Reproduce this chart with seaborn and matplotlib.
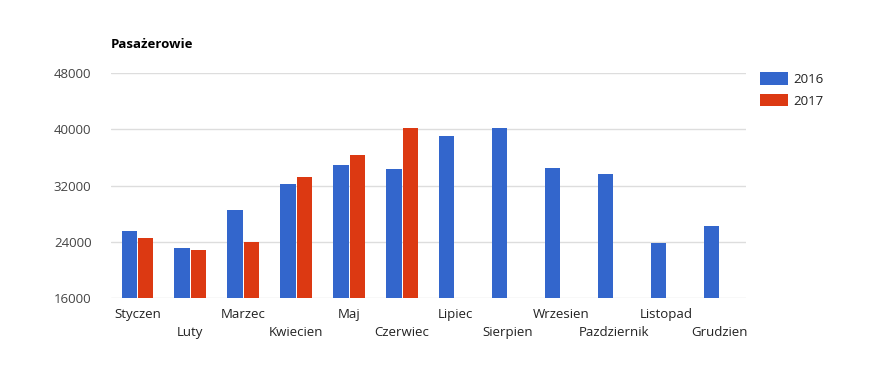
import numpy as np
import pandas as pd
import matplotlib
matplotlib.use("Agg")
import matplotlib.pyplot as plt
import matplotlib.transforms as mtransforms
import seaborn as sns
from matplotlib.patches import Patch

months = ["Styczen", "Luty", "Marzec", "Kwiecien", "Maj", "Czerwiec",
          "Lipiec", "Sierpien", "Wrzesien", "Pazdziernik", "Listopad", "Grudzien"]
vals_2016 = [25500, 23100, 28600, 32300, 35000, 34300,
             39100, 40250, 34500, 33600, 23900, 26300]
vals_2017 = [24500, 22800, 24000, 33250, 36400, 40250,
             np.nan, np.nan, np.nan, np.nan, np.nan, np.nan]
series = ["2016", "2017"]
colors = ["#3366CC", "#DC3912"]
yticks = [16000, 24000, 32000, 40000, 48000]
title = "Pasażerowie"

df = pd.DataFrame({
    "month": months * 2,
    "year": [series[0]] * 12 + [series[1]] * 12,
    "value": vals_2016 + vals_2017,
})

sns.set_style("white")
plt.rcParams["font.family"] = ["Open Sans", "DejaVu Sans"]

fig = plt.figure(figsize=(8.81, 3.67), dpi=100)
ax = fig.add_axes([111 / 881, 1 - 298 / 367, (746 - 111) / 881, (298 - 73.3) / 367])

sns.barplot(data=df, x="month", y="value", hue="year", order=months,
            hue_order=series, palette=colors, width=0.62, gap=0.06,
            linewidth=0, saturation=1, legend=False, ax=ax, errorbar=None)

ax.set_ylim(yticks[0], yticks[-1])
ax.set_yticks(yticks)
ax.set_yticklabels([str(t) for t in yticks])
ax.set_xlim(-0.5, len(months) - 0.5)
ax.set_xlabel("")
ax.set_ylabel("")
ax.grid(axis="y", color="#dddddd", linewidth=1)
ax.set_axisbelow(True)
for s in ax.spines.values():
    s.set_visible(False)

ax.set_xticks(range(len(months)))
ax.set_xticklabels(months)
ax.tick_params(axis="x", length=0, pad=7.5, labelsize=9.5, labelcolor="#222222")
ax.tick_params(axis="y", length=0, pad=14, labelsize=9.5, labelcolor="#444444")

for i, lab in enumerate(ax.get_xticklabels()):
    if i % 2 == 1:
        lab.set_transform(lab.get_transform() +
                          mtransforms.ScaledTranslation(0, -18 / 100, fig.dpi_scale_trans))

fig.text(111 / 881, 1 - 44 / 367, title, fontsize=9.5, fontweight="bold",
         ha="left", va="center", color="#000000")

handles = [Patch(facecolor=c, edgecolor="none") for c in colors]
fig.legend(handles, series, loc="upper left",
           bbox_to_anchor=(760 / 881, 1 - 72 / 367), bbox_transform=fig.transFigure,
           frameon=False, fontsize=9.5, handlelength=2.1, handleheight=1.1,
           handletextpad=0.4, labelspacing=0.6, borderpad=0, borderaxespad=0,
           labelcolor="#222222")

fig.savefig("out.png", dpi=100)
